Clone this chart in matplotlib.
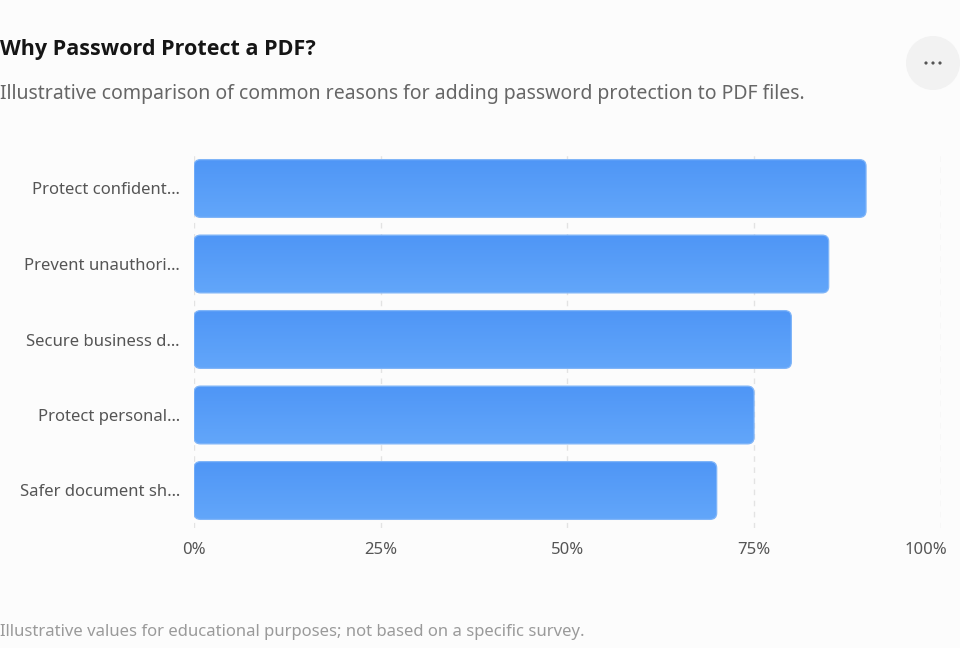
import numpy as np
import matplotlib
matplotlib.use("Agg")
import matplotlib.pyplot as plt
from matplotlib.patches import FancyBboxPatch, Circle
from matplotlib.colors import LinearSegmentedColormap
import matplotlib.transforms as mtransforms

# data
reasons = ["Protect confident\u2026", "Prevent unauthori\u2026", "Secure business d\u2026",
           "Protect personal\u2026", "Safer document sh\u2026"]
shares = [90, 85, 80, 75, 70]
x_ticks = [0, 25, 50, 75, 100]
x_labels = ["0%", "25%", "50%", "75%", "100%"]

title = "Why Password Protect a PDF?"
subtitle = "Illustrative comparison of common reasons for adding password protection to PDF files."
footer = "Illustrative values for educational purposes; not based on a specific survey."

plt.rcParams['font.family'] = ['Noto Sans', 'DejaVu Sans']

W, H = 960, 648
bg = "#fcfcfc"
fig = plt.figure(figsize=(W / 100, H / 100), dpi=100, facecolor=bg)

# overlay in pixel coords for header, footer and menu button
over = fig.add_axes([0, 0, 1, 1], zorder=5)
over.set_xlim(0, W)
over.set_ylim(H, 0)
over.axis("off")
over.patch.set_alpha(0)

# chart axes in pixel terms
left, right = 194, 940.7
top, bottom = 150.75, 528.25
ax = fig.add_axes([left / W, 1 - bottom / H, (right - left) / W, (bottom - top) / H])
ax.set_facecolor(bg)

for s in ax.spines.values():
    s.set_visible(False)

ax.set_xticks(x_ticks)
ax.set_xticklabels([])
ax.set_yticks(range(len(reasons)))
ax.set_yticklabels(reasons)
ax.tick_params(axis="both", length=0, labelsize=12, labelcolor="#555555")
ax.tick_params(axis="y", pad=10)
ax.grid(axis="x", color="#e3e3e3", linestyle=(0, (4, 4)), linewidth=1)
ax.set_axisbelow(True)

# x labels, last one kept inside the frame
xtrans = mtransforms.blended_transform_factory(ax.transData, ax.transAxes)
for xv, lab in zip(x_ticks, x_labels):
    if xv == x_ticks[-1]:
        tr = mtransforms.offset_copy(xtrans, fig=fig, x=-15, y=-22, units="dots")
    else:
        tr = mtransforms.offset_copy(xtrans, fig=fig, x=0, y=-22, units="dots")
    ax.text(xv, 0, lab, transform=tr, ha="center", va="center",
            fontsize=12, color="#555555")

# rounded bars with slight vertical gradient
bar_h = 0.765
px_x = (right - left) / 100.0
px_y = (bottom - top) / len(reasons)
rad = 6.5 / px_x
aspect = (6.5 / px_y) / rad
cmap = LinearSegmentedColormap.from_list("bluegrad", ["#4f96f6", "#62a6fa"])
grad = np.linspace(0, 1, 64).reshape(-1, 1)
for i, v in enumerate(shares):
    y0 = i - bar_h / 2
    patch = FancyBboxPatch((0, y0), v, bar_h,
                           boxstyle=f"round,pad=0,rounding_size={rad}",
                           mutation_aspect=aspect,
                           facecolor="none", edgecolor="#80b5f8", linewidth=0.9, zorder=3)
    ax.add_patch(patch)
    im = ax.imshow(grad, cmap=cmap, aspect="auto", extent=(0, v, y0 + bar_h, y0),
                   zorder=2, interpolation="bilinear")
    im.set_clip_path(patch)
ax.set_xlim(0, 100)
ax.set_ylim(len(reasons) - 0.5, -0.5)

# header and footer
over.text(0, 49, title, fontsize=15.5, fontweight="bold",
          family=["Open Sans", "Noto Sans", "DejaVu Sans"],
          color="#151515", va="center", ha="left")
over.text(0, 94, subtitle, fontsize=14, color="#666666",
          va="center", ha="left")
over.text(0, 632, footer, fontsize=12, color="#9a9a9a",
          va="center", ha="left")

# menu button
over.add_patch(Circle((933, 63), 27, facecolor="#f2f2f2", edgecolor="none"))
for dx in (-7, 0, 7):
    over.add_patch(Circle((933 + dx, 63), 1.6, facecolor="#555555", edgecolor="none"))

fig.savefig("out.png", dpi=100, facecolor=bg)
